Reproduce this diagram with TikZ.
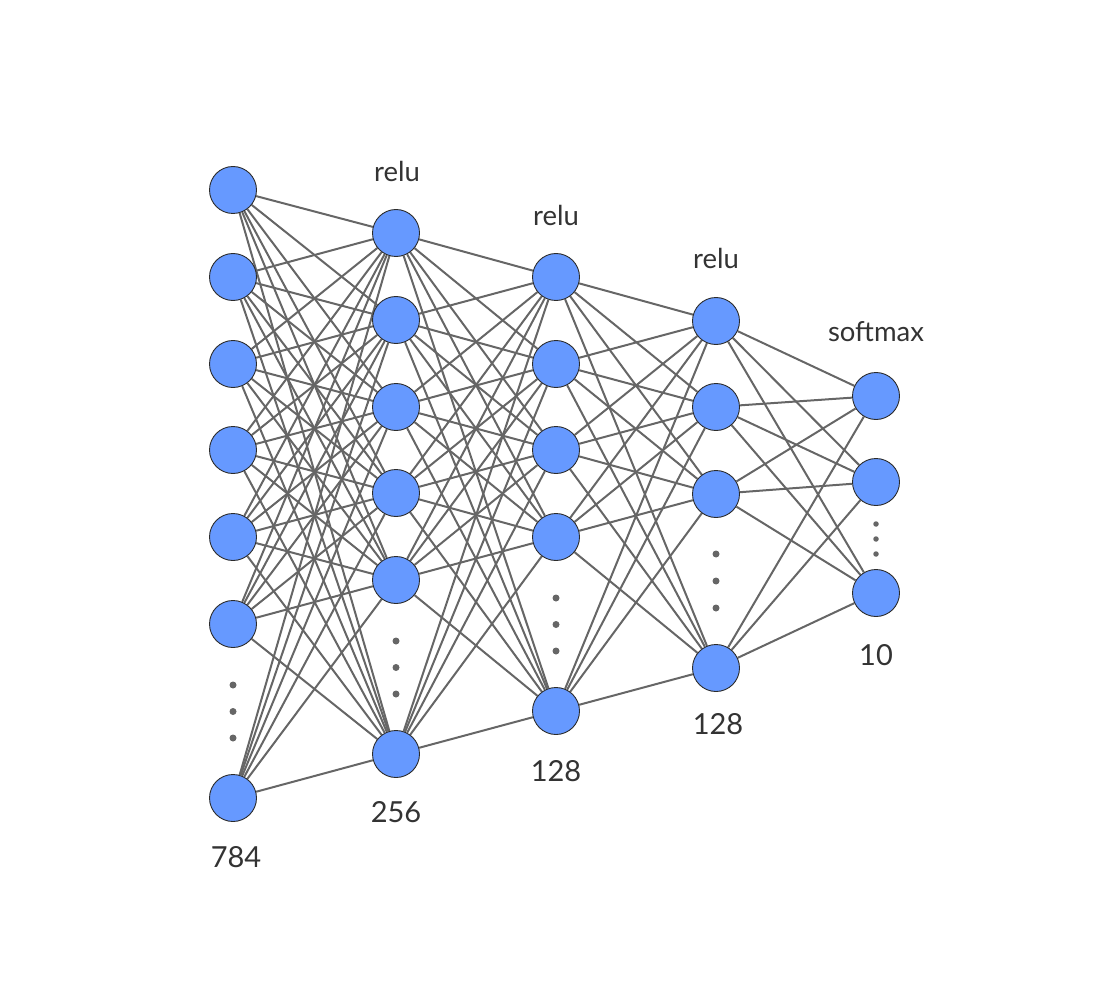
\documentclass[tikz,border=0pt]{standalone}
\usepackage{fontspec}
\setmainfont{Lato}
\usetikzlibrary{backgrounds}
\definecolor{nfill}{HTML}{6699FF}
\definecolor{nborder}{HTML}{2B2B2B}
\definecolor{edgec}{HTML}{666666}
\definecolor{dotc}{HTML}{666666}
\definecolor{txt}{HTML}{333333}
\begin{document}
\begin{tikzpicture}[x=1pt,y=-1pt,
  neuron/.style={circle,fill=nfill,draw=nborder,line width=0.9pt,minimum size=47pt,inner sep=0pt},
  conn/.style={draw=edgec,line width=2pt},
  lbl/.style={font=\fontsize{27.5}{30}\selectfont,text=txt,inner sep=0pt},
  num/.style={font=\fontsize{29}{32}\selectfont,text=txt,inner sep=0pt},
  vdot/.style={circle,fill=dotc,inner sep=0pt,minimum size=7pt},
  sdot/.style={circle,fill=dotc,inner sep=0pt,minimum size=5.5pt}]
\useasboundingbox (0,0) rectangle (1100,1000);
% neurons
\foreach \y [count=\i] in {190,277,364,450,537,624,798} \node[neuron] (a\i) at (233,\y) {};
\foreach \y [count=\i] in {233,320,407,493,580,754} \node[neuron] (b\i) at (396,\y) {};
\foreach \y [count=\i] in {277,364,450,537,711} \node[neuron] (c\i) at (556,\y) {};
\foreach \y [count=\i] in {321,407,494,668} \node[neuron] (d\i) at (716,\y) {};
\foreach \y [count=\i] in {396,482,593} \node[neuron] (e\i) at (876,\y) {};
% connections
\begin{scope}[on background layer]
\foreach \i in {1,...,7} \foreach \j in {1,...,6} \draw[conn] (a\i) -- (b\j);
\foreach \i in {1,...,6} \foreach \j in {1,...,5} \draw[conn] (b\i) -- (c\j);
\foreach \i in {1,...,5} \foreach \j in {1,...,4} \draw[conn] (c\i) -- (d\j);
\foreach \i in {1,...,4} \foreach \j in {1,...,3} \draw[conn] (d\i) -- (e\j);
\end{scope}
% ellipsis dots
\foreach \y [count=\i] in {685,711.5,738} \node[vdot] (da\i) at (233,\y) {};
\foreach \y [count=\i] in {641,667.5,694} \node[vdot] (db\i) at (396,\y) {};
\foreach \y [count=\i] in {598,624.5,651} \node[vdot] (dc\i) at (556,\y) {};
\foreach \y [count=\i] in {554,581,608} \node[vdot] (dd\i) at (716,\y) {};
\foreach \y [count=\i] in {524,539,554} \node[sdot] (de\i) at (876,\y) {};
% labels
\node[lbl] (tb) at (397,171) {relu};
\node[lbl] (tc) at (556,215) {relu};
\node[lbl] (td) at (716,258) {relu};
\node[lbl] (te) at (876,332) {softmax};
\node[num] (na) at (236,857) {784};
\node[num] (nb) at (396,812) {256};
\node[num] (nc) at (556,771) {128};
\node[num] (nd) at (718,724) {128};
\node[num] (ne) at (876,655) {10};
\end{tikzpicture}
\end{document}
